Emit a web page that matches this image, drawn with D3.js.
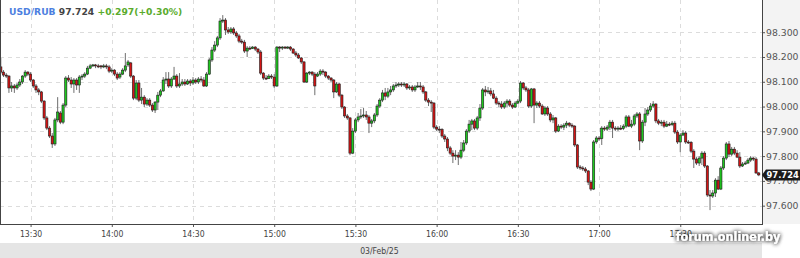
<!DOCTYPE html>
<html><head><meta charset="utf-8">
<script src="https://cdn.jsdelivr.net/npm/d3@7"></script>
<style>body{margin:0;background:#fff;}svg{display:block;}</style>
</head><body>
<svg id="chart" width="800" height="258"></svg>
<script>
const symbol = "USD/RUB";
const lastPrice = 97.724;
const changeText = "+0.297(+0.30%)";
const dateLabel = "03/Feb/25";
const firstCandle = "2025-02-03T13:19:00Z";
const xTickLabels = ["13:30","14:00","14:30","15:00","15:30","16:00","16:30","17:00","17:30"];
const yTicks = [97.6, 97.7, 97.8, 97.9, 98.0, 98.1, 98.2, 98.3];

const opens = [
98.160,98.139,98.127,98.123,98.075,98.083,98.075,98.087,98.099,98.123,
98.139,98.131,98.107,98.083,98.067,98.059,98.022,97.954,97.913,97.881,
97.849,97.946,97.974,97.937,98.006,98.115,98.107,98.091,98.107,98.087,
98.119,98.123,98.131,98.155,98.164,98.168,98.164,98.164,98.160,98.164,
98.160,98.143,98.147,98.131,98.119,98.131,98.147,98.168,98.176,98.123,
98.034,98.095,98.026,98.038,98.010,98.026,98.006,97.986,98.018,98.046,
98.063,98.107,98.111,98.083,98.111,98.123,98.083,98.091,98.099,98.091,
98.103,98.095,98.107,98.099,98.111,98.107,98.083,98.131,98.188,98.228,
98.248,98.277,98.345,98.349,98.309,98.301,98.313,98.297,98.285,98.264,
98.260,98.224,98.236,98.234,98.240,98.232,98.220,98.135,98.115,98.113,
98.123,98.119,98.083,98.240,98.236,98.240,98.236,98.240,98.232,98.216,
98.208,98.196,98.180,98.099,98.135,98.139,98.131,98.123,98.131,98.143,
98.139,98.123,98.115,98.107,98.059,98.091,98.046,97.998,97.962,97.954,
97.812,97.901,97.946,97.958,97.962,97.966,97.958,97.933,97.942,97.966,
98.002,98.026,98.055,98.042,98.059,98.067,98.083,98.087,98.091,98.087,
98.091,98.075,98.079,98.067,98.079,98.083,98.079,98.059,98.026,98.018,
98.014,97.917,97.909,97.907,97.881,97.869,97.833,97.812,97.800,97.804,
97.796,97.824,97.853,97.901,97.929,97.942,97.913,97.954,97.994,98.067,
98.059,98.063,98.051,98.034,98.014,98.010,97.998,98.014,98.022,98.006,
97.998,98.014,98.022,98.095,98.075,98.067,98.002,98.071,98.006,98.014,
98.002,97.970,97.994,97.970,97.946,97.954,97.901,97.921,97.917,97.925,
97.933,97.925,97.921,97.845,97.756,97.752,97.748,97.740,97.695,97.667,
97.857,97.873,97.871,97.913,97.909,97.917,97.937,97.913,97.909,97.913,
97.911,97.921,97.958,97.921,97.929,97.962,97.970,97.861,97.937,97.970,
97.986,98.002,98.010,97.942,97.933,97.937,97.921,97.929,97.927,97.933,
97.897,97.857,97.885,97.893,97.857,97.855,97.820,97.788,97.772,97.792,
97.812,97.760,97.643,97.639,97.651,97.703,97.667,97.752,97.792,97.849,
97.808,97.828,97.812,97.796,97.760,97.768,97.772,97.784,97.792,97.788,
97.732];

const highs = [
98.196,98.147,98.135,98.127,98.099,98.091,98.095,98.111,98.127,98.147,
98.143,98.139,98.111,98.091,98.075,98.063,98.026,97.962,97.921,97.893,
97.954,98.038,97.982,98.014,98.123,98.127,98.119,98.115,98.115,98.127,
98.131,98.139,98.164,98.172,98.172,98.172,98.172,98.168,98.172,98.172,
98.168,98.155,98.151,98.139,98.139,98.155,98.216,98.188,98.180,98.127,
98.107,98.107,98.075,98.046,98.034,98.034,98.014,98.022,98.059,98.071,
98.119,98.139,98.139,98.119,98.160,98.131,98.135,98.111,98.111,98.111,
98.111,98.119,98.115,98.119,98.123,98.119,98.139,98.196,98.240,98.264,
98.285,98.357,98.369,98.357,98.321,98.321,98.321,98.305,98.293,98.273,
98.269,98.244,98.244,98.244,98.244,98.236,98.228,98.139,98.127,98.131,
98.131,98.131,98.244,98.244,98.244,98.244,98.244,98.244,98.236,98.224,
98.216,98.200,98.184,98.139,98.143,98.143,98.139,98.139,98.151,98.151,
98.143,98.127,98.119,98.111,98.099,98.095,98.051,98.002,97.970,97.958,
97.913,97.954,97.974,97.990,97.994,97.982,97.966,97.950,97.974,98.010,
98.034,98.067,98.075,98.075,98.083,98.091,98.099,98.099,98.099,98.099,
98.095,98.087,98.087,98.087,98.099,98.099,98.087,98.063,98.034,98.026,
98.018,97.925,97.921,97.913,97.889,97.877,97.841,97.824,97.824,97.816,
97.857,97.865,97.909,97.946,97.950,97.950,97.962,98.010,98.075,98.083,
98.079,98.075,98.067,98.042,98.022,98.022,98.022,98.030,98.030,98.014,
98.022,98.030,98.103,98.099,98.083,98.075,98.075,98.075,98.022,98.022,
98.010,98.002,98.002,97.978,97.966,97.958,97.929,97.929,97.933,97.942,
97.937,97.933,97.925,97.849,97.764,97.760,97.756,97.744,97.703,97.865,
97.881,97.881,97.921,97.921,97.925,97.946,97.946,97.921,97.921,97.925,
97.929,97.966,97.966,97.946,97.970,97.978,97.978,97.946,97.994,97.998,
98.014,98.022,98.014,97.950,97.946,97.946,97.942,97.937,97.942,97.942,
97.905,97.893,97.905,97.901,97.865,97.861,97.828,97.796,97.800,97.820,
97.820,97.764,97.663,97.663,97.711,97.719,97.760,97.800,97.857,97.861,
97.837,97.837,97.824,97.816,97.776,97.780,97.792,97.800,97.796,97.796,
97.736];

const lows = [
98.131,98.119,98.115,98.055,98.059,98.055,98.067,98.079,98.091,98.115,
98.123,98.099,98.075,98.055,98.046,98.014,97.946,97.905,97.873,97.833,
97.841,97.937,97.929,97.929,97.998,98.099,98.075,98.055,98.067,98.055,
98.107,98.115,98.127,98.151,98.160,98.155,98.155,98.151,98.155,98.151,
98.135,98.135,98.123,98.107,98.111,98.127,98.139,98.160,98.115,98.026,
98.026,98.018,98.010,97.998,98.002,97.998,97.978,97.974,97.986,98.038,
98.059,98.091,98.075,98.075,98.107,98.075,98.075,98.083,98.083,98.087,
98.083,98.087,98.091,98.091,98.099,98.079,98.079,98.127,98.180,98.220,
98.240,98.269,98.337,98.289,98.293,98.293,98.289,98.277,98.256,98.252,
98.216,98.200,98.228,98.232,98.224,98.212,98.127,98.107,98.107,98.111,
98.111,98.075,98.079,98.220,98.228,98.232,98.232,98.224,98.212,98.200,
98.192,98.172,98.095,98.095,98.127,98.123,98.046,98.119,98.123,98.127,
98.115,98.107,98.099,98.034,98.055,98.038,97.990,97.954,97.946,97.804,
97.808,97.893,97.937,97.950,97.954,97.946,97.893,97.917,97.933,97.958,
97.994,98.018,98.026,98.034,98.046,98.059,98.075,98.079,98.079,98.079,
98.067,98.067,98.059,98.059,98.075,98.067,98.051,98.018,98.002,97.978,
97.909,97.901,97.893,97.873,97.857,97.820,97.804,97.772,97.784,97.764,
97.788,97.816,97.845,97.893,97.905,97.905,97.905,97.942,97.986,98.042,
98.051,98.042,98.030,98.006,97.998,97.990,97.990,97.998,97.998,97.990,
97.994,98.010,98.014,98.067,98.059,97.994,97.994,97.933,97.994,97.994,
97.966,97.962,97.962,97.937,97.933,97.893,97.897,97.909,97.905,97.913,
97.917,97.913,97.837,97.748,97.744,97.740,97.732,97.683,97.659,97.663,
97.849,97.861,97.845,97.901,97.901,97.905,97.873,97.901,97.901,97.905,
97.905,97.913,97.917,97.913,97.921,97.954,97.824,97.853,97.921,97.962,
97.978,97.994,97.933,97.925,97.921,97.913,97.917,97.921,97.921,97.889,
97.849,97.816,97.881,97.849,97.849,97.812,97.752,97.764,97.760,97.764,
97.752,97.635,97.582,97.631,97.635,97.663,97.663,97.744,97.784,97.796,
97.800,97.804,97.792,97.752,97.756,97.764,97.768,97.776,97.780,97.728,
97.719];

const closes = [
98.139,98.127,98.123,98.075,98.083,98.075,98.087,98.099,98.123,98.139,
98.131,98.107,98.083,98.067,98.059,98.022,97.954,97.913,97.881,97.849,
97.946,97.978,97.937,98.006,98.115,98.107,98.091,98.107,98.087,98.119,
98.123,98.131,98.155,98.164,98.168,98.164,98.163,98.160,98.164,98.160,
98.143,98.147,98.131,98.115,98.131,98.147,98.164,98.180,98.123,98.034,
98.095,98.026,98.038,98.010,98.026,98.006,97.986,98.018,98.046,98.063,
98.107,98.111,98.083,98.111,98.123,98.083,98.091,98.099,98.091,98.103,
98.095,98.107,98.099,98.111,98.107,98.083,98.131,98.188,98.228,98.248,
98.277,98.345,98.349,98.309,98.301,98.313,98.297,98.285,98.264,98.260,
98.224,98.236,98.234,98.240,98.232,98.220,98.135,98.115,98.113,98.123,
98.119,98.083,98.240,98.236,98.240,98.236,98.240,98.232,98.216,98.208,
98.196,98.180,98.099,98.135,98.139,98.131,98.083,98.131,98.143,98.139,
98.123,98.115,98.107,98.059,98.091,98.046,97.998,97.962,97.954,97.812,
97.901,97.946,97.958,97.962,97.966,97.958,97.933,97.942,97.966,98.002,
98.026,98.055,98.042,98.059,98.067,98.083,98.087,98.091,98.087,98.091,
98.075,98.079,98.067,98.079,98.083,98.079,98.059,98.026,98.018,98.014,
97.917,97.909,97.907,97.881,97.869,97.833,97.812,97.800,97.804,97.796,
97.824,97.853,97.901,97.929,97.942,97.913,97.954,97.994,98.067,98.059,
98.063,98.051,98.034,98.014,98.010,97.998,98.014,98.022,98.006,97.998,
98.014,98.022,98.095,98.075,98.067,98.002,98.071,98.006,98.014,98.002,
97.970,97.994,97.970,97.946,97.954,97.901,97.921,97.917,97.925,97.933,
97.925,97.921,97.845,97.756,97.752,97.748,97.740,97.695,97.667,97.857,
97.873,97.871,97.913,97.909,97.917,97.937,97.913,97.909,97.913,97.911,
97.921,97.958,97.921,97.929,97.962,97.970,97.861,97.937,97.970,97.986,
98.002,98.010,97.942,97.933,97.937,97.921,97.929,97.927,97.933,97.897,
97.857,97.885,97.893,97.857,97.855,97.820,97.788,97.772,97.792,97.812,
97.760,97.643,97.639,97.651,97.703,97.667,97.752,97.792,97.849,97.808,
97.828,97.812,97.796,97.760,97.768,97.772,97.784,97.792,97.788,97.732,
97.724];

// ---------- layout ----------
const W = 800, H = 258;
const plotR = 762, plotB = 224;
const svg = d3.select("#chart");

const t0 = new Date(firstCandle);
const candles = closes.map((c, i) => ({
  t: d3.utcMinute.offset(t0, i), o: opens[i], h: highs[i], l: lows[i], c
}));

const x = d3.scaleUtc()
  .domain([new Date("2025-02-03T13:18:42Z"), new Date("2025-02-03T18:00:12Z")])
  .range([0, plotR]);
const y = d3.scaleLinear().domain([97.526, 98.430]).range([plotB, 0]);

const parseHM = s => new Date(`2025-02-03T${s}:00Z`);
const xTicks = xTickLabels.map(parseHM);

// backgrounds
svg.append("rect").attr("x", 0).attr("y", 0).attr("width", W).attr("height", H).attr("fill", "#fff");
svg.append("rect").attr("x", plotR).attr("y", 0).attr("width", W - plotR).attr("height", plotB).attr("fill", "#f3f3f3");
svg.append("rect").attr("x", 0).attr("y", 243).attr("width", plotR).attr("height", 15).attr("fill", "#e5e5e5");

// grid
const grid = svg.append("g").attr("stroke", "#dcdcdc").attr("stroke-dasharray", "4,4").attr("shape-rendering", "crispEdges");
grid.selectAll("line.h").data(yTicks).join("line")
  .attr("x1", 0).attr("x2", plotR)
  .attr("y1", d => Math.round(y(d)) + 0.5).attr("y2", d => Math.round(y(d)) + 0.5);
grid.selectAll("line.v").data(xTicks).join("line")
  .attr("y1", 0).attr("y2", plotB)
  .attr("x1", d => Math.round(x(d)) + 0.5).attr("x2", d => Math.round(x(d)) + 0.5);

// title
const title = svg.append("text").attr("x", 9).attr("y", 15)
  .attr("font-family", "DejaVu Sans, sans-serif").attr("font-weight", "bold").attr("font-size", 9.2);
title.append("tspan").attr("fill", "#4d7fe0").text(symbol + " ");
title.append("tspan").attr("fill", "#444").text(lastPrice.toFixed(3) + " ");
title.append("tspan").attr("fill", "#5aab2c").text(changeText);

// candles
const cg = svg.append("g");
const bw = 2.2;
cg.selectAll("line.wick").data(candles).join("line")
  .attr("x1", d => x(d.t)).attr("x2", d => x(d.t))
  .attr("y1", d => y(d.h)).attr("y2", d => y(d.l))
  .attr("stroke", "#6e6e6e").attr("stroke-width", 1);
cg.selectAll("rect.body").data(candles).join("rect")
  .attr("x", d => x(d.t) - bw / 2)
  .attr("width", bw)
  .attr("y", d => y(Math.max(d.o, d.c)))
  .attr("height", d => Math.max(1, Math.abs(y(d.o) - y(d.c))))
  .attr("fill", d => d.c >= d.o ? "#1ec81e" : "#d41414")
  .attr("stroke", "#1a1a1a").attr("stroke-width", 0.6);

// axes
const yAxis = d3.axisRight(y).tickValues(yTicks).tickFormat(d3.format(".3f")).tickSize(3).tickPadding(1);
const gy = svg.append("g").attr("transform", `translate(${plotR},0)`).call(yAxis);
gy.select(".domain").remove();
gy.selectAll("line").attr("stroke", "#555");
gy.selectAll("text").attr("font-family", "DejaVu Sans, sans-serif").attr("font-size", 9.3).attr("fill", "#555");

const xAxis = d3.axisBottom(x).tickValues(xTicks).tickFormat(d3.utcFormat("%H:%M")).tickSize(3).tickPadding(4);
const gx = svg.append("g").attr("transform", `translate(0,${plotB})`).call(xAxis);
gx.select(".domain").remove();
gx.selectAll("line").attr("stroke", "#555");
gx.selectAll("text").attr("font-family", "DejaVu Sans Condensed, DejaVu Sans, sans-serif").attr("font-size", 8.6).attr("fill", "#444");

// frame lines
svg.append("line").attr("x1", 0.5).attr("x2", 0.5).attr("y1", 0).attr("y2", plotB + 0.5).attr("stroke", "#444");
svg.append("line").attr("x1", plotR + 0.5).attr("x2", plotR + 0.5).attr("y1", 0).attr("y2", plotB + 0.5).attr("stroke", "#444");
svg.append("line").attr("x1", 0).attr("x2", plotR + 1).attr("y1", plotB + 0.5).attr("y2", plotB + 0.5).attr("stroke", "#444");

// date label
svg.append("text").attr("x", x(parseHM("15:30")) + 24).attr("y", 253.5).attr("text-anchor", "middle")
  .attr("font-family", "DejaVu Sans Condensed, DejaVu Sans, sans-serif").attr("font-size", 8.6).attr("fill", "#444")
  .text(dateLabel);

// last price tag
const yl = y(lastPrice);
svg.append("path")
  .attr("d", `M${plotR},${yl} L${plotR + 4},${yl - 5.5} L${W},${yl - 5.5} L${W},${yl + 5.5} L${plotR + 4},${yl + 5.5} Z`)
  .attr("fill", "#1c1c1c");
svg.append("text").attr("x", plotR + 4.5).attr("y", yl + 3.4)
  .attr("font-family", "DejaVu Sans Condensed, DejaVu Sans, sans-serif").attr("font-weight", "bold").attr("font-size", 9.3).attr("fill", "#fff")
  .text(lastPrice.toFixed(3));

// watermark
const defs = svg.append("defs");
const f = defs.append("filter").attr("id", "sh").attr("x", "-20%").attr("y", "-50%").attr("width", "140%").attr("height", "200%");
f.append("feGaussianBlur").attr("in", "SourceAlpha").attr("stdDeviation", 2.2).attr("result", "b");
f.append("feFlood").attr("flood-color", "#000").attr("flood-opacity", 0.75);
f.append("feComposite").attr("in2", "b").attr("operator", "in").attr("result", "s");
const fm = f.append("feMerge");
fm.append("feMergeNode").attr("in", "s");
fm.append("feMergeNode").attr("in", "s");
fm.append("feMergeNode").attr("in", "SourceGraphic");
svg.append("text").attr("x", 728).attr("y", 241).attr("text-anchor", "middle")
  .attr("font-family", "DejaVu Sans Condensed, DejaVu Sans, sans-serif").attr("font-weight", "bold").attr("font-size", 12.5)
  .attr("fill", "#fff").attr("filter", "url(#sh)").text("forum.onliner.by");
</script>
</body></html>
